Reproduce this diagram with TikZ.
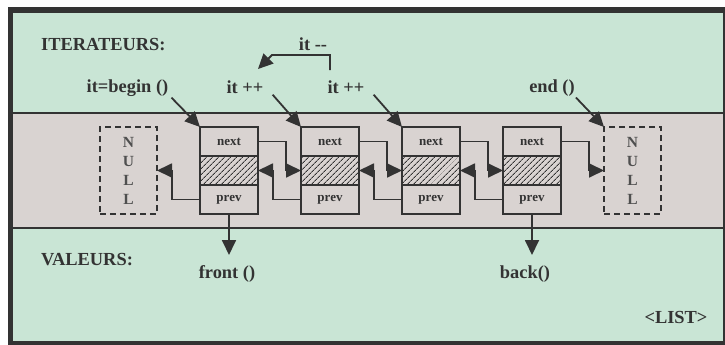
\documentclass[tikz,border=0pt]{standalone}
\usepackage{fontspec}
\setmainfont{Liberation Serif}
\usetikzlibrary{arrows.meta,positioning,calc,patterns.meta}
\definecolor{mint}{HTML}{C9E5D5}
\definecolor{slab}{HTML}{D9D3D1}
\definecolor{ink}{HTML}{333333}
\definecolor{nulink}{HTML}{4F4F4F}

\begin{document}
\begin{tikzpicture}[x=1pt,y=-1pt,font=\bfseries\fontsize{18.4}{20}\selectfont,text=ink,
   cell/.style={draw=ink,line width=1.9pt,minimum width=58pt,minimum height=29pt,inner sep=0pt,outer sep=0pt,font=\bfseries\fontsize{13}{15}\selectfont},
   hat/.style={cell,pattern={Lines[angle=45,distance=4pt,line width=1pt]},pattern color=ink},
   nul/.style={draw=ink,line width=1.9pt,dash pattern=on 6pt off 4pt,minimum width=57pt,minimum height=87pt,inner sep=0pt,outer sep=0pt,align=center,text=nulink,font=\bfseries\fontsize{15.5}{19}\selectfont},
   fl/.style={-{Triangle[length=15pt,width=14pt]},draw=ink,line width=1.8pt},
   lb/.style={inner sep=1pt}]
  \useasboundingbox (0,0) rectangle (725,345);
  % frame and bands
  \fill[ink] (8,7) rectangle (725,345);
  \fill[mint] (13,13) rectangle (723,341);
  \fill[slab] (13,113) rectangle (723,228);
  \draw[ink,line width=2pt] (13,113) -- (723,113) (13,228) -- (723,228);
  % list cells
  \node[cell] (n1) at (229,141.5) {next};
  \node[hat,below=0pt of n1] (d1) {};
  \node[cell,below=0pt of d1] (p1) {prev};
  \node[cell,right=43pt of n1] (n2) {next};
  \node[hat,below=0pt of n2] (d2) {};
  \node[cell,below=0pt of d2] (p2) {prev};
  \node[cell,right=43pt of n2] (n3) {next};
  \node[hat,below=0pt of n3] (d3) {};
  \node[cell,below=0pt of d3] (p3) {prev};
  \node[cell,right=43pt of n3] (n4) {next};
  \node[hat,below=0pt of n4] (d4) {};
  \node[cell,below=0pt of d4] (p4) {prev};
  \node[nul,left=43pt of d1] (nl) {N\\U\\L\\L};
  \node[nul,right=43pt of d4] (nr) {N\\U\\L\\L};
  % labels
  \node[lb,anchor=west] (iter) at (40,45) {ITERATEURS:};
  \node[lb] (ibeg) at (127.5,88) {it=begin ()};
  \node[lb] (ip1) at (245,87) {it ++};
  \node[lb] (ip2) at (346,87) {it ++};
  \node[lb] (imm) at (313,44) {it -{}-};
  \node[lb] (iend) at (552,88) {end ()};
  \node[lb,anchor=west] (val) at (40,260) {VALEURS:};
  \node[lb] (fr) at (227,274) {front ()};
  \node[lb] (bk) at (525,274) {back()};
  \node[lb] (lst) at (676,317) {<LIST>};
  \coordinate (mmA) at (330,70);
  \coordinate (mmB) at (258,69);
  % links
  \draw[fl] (n1.east) -| ($(d2.west)+(-15,0)$) -- (d2.west);
  \draw[fl] (n2.east) -| ($(d3.west)+(-15,0)$) -- (d3.west);
  \draw[fl] (n3.east) -| ($(d4.west)+(-15,0)$) -- (d4.west);
  \draw[fl] (n4.east) -| ($(nr.west)+(-15,0)$) -- (nr.west);
  \draw[fl] (p1.west) -| ($(nl.east)+(15,0)$) -- (nl.east);
  \draw[fl] (p2.west) -| ($(d1.east)+(15,0)$) -- (d1.east);
  \draw[fl] (p3.west) -| ($(d2.east)+(15,0)$) -- (d2.east);
  \draw[fl] (p4.west) -| ($(d3.east)+(15,0)$) -- (d3.east);
  % iterators and values
  \draw[fl] ($(ibeg.south east)+(2,0)$) -- (n1.north west);
  \draw[fl] ($(ip1.south east)+(8,0)$) -- (n2.north west);
  \draw[fl] ($(ip2.south east)+(8,0)$) -- (n3.north west);
  \draw[fl] (iend.south east) -- (nr.north west);
  \draw[fl] (mmA) -- ++(0,-15) -- ++(-58,0) -- (mmB);
  \draw[fl] (p1.south) -- ++(0,41);
  \draw[fl] (p4.south) -- ++(0,41);
\end{tikzpicture}
\end{document}
